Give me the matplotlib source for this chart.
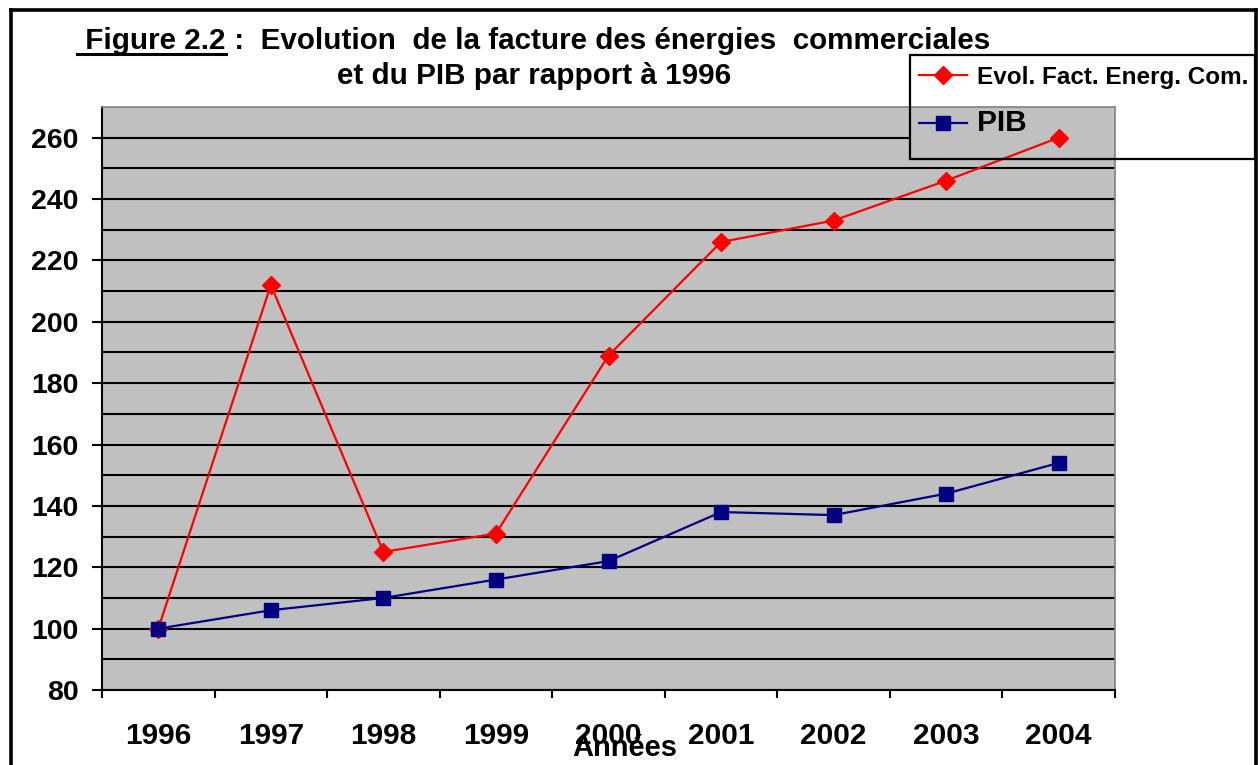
import matplotlib
matplotlib.use('Agg')
import matplotlib.pyplot as plt
import numpy as np
from matplotlib.lines import Line2D
from matplotlib.patches import Rectangle

annees = ['1996', '1997', '1998', '1999', '2000', '2001', '2002', '2003', '2004']
facture = [100, 212, 125, 131, 189, 226, 233, 246, 260]
pib = [100, 106, 110, 116, 122, 138, 137, 144, 154]

W, H = 1258, 765

plt.rcParams['font.family'] = ['Liberation Sans', 'DejaVu Sans']
plt.rcParams['font.weight'] = 'bold'

fig = plt.figure(figsize=(W / 100, H / 100), dpi=100)
ax = fig.add_axes([102 / W, 75 / H, 1013 / W, 583 / H])
ax.set_facecolor('#c0c0c0')

x = np.arange(len(annees))
ax.plot(x, facture, color='#ff0000', lw=1.6, marker='D', ms=9,
        label='Evol. Fact. Energ. Com.', zorder=3)
ax.plot(x, pib, color='#000080', lw=1.6, marker='s', ms=10.5,
        label='PIB', zorder=3)

ax.set_xlim(-0.5, 8.5)
ax.set_ylim(80, 270)

# y axis: labels every 20, grid every 10
ax.set_yticks(np.arange(80, 261, 20))
ax.set_yticks(np.arange(90, 270, 20), minor=True)
ax.grid(axis='y', which='both', color='black', lw=1.5)
ax.set_axisbelow(True)
ax.tick_params(axis='y', which='major', length=7, width=1.5, pad=10,
               labelsize=20.5, direction='out')
ax.tick_params(axis='y', which='minor', length=0)

# x axis: ticks between categories, labels centred
ax.set_xticks(np.arange(-0.5, 9, 1))
ax.set_xticklabels([])
ax.set_xticks(x, minor=True)
ax.set_xticklabels(annees, minor=True)
ax.tick_params(axis='x', which='major', length=6, width=1.5, direction='out')
ax.tick_params(axis='x', which='minor', length=0, pad=23, labelsize=21.5)

for s in ['left', 'bottom']:
    ax.spines[s].set_color('black')
    ax.spines[s].set_linewidth(1.5)
for s in ['top', 'right']:
    ax.spines[s].set_color('#808080')
    ax.spines[s].set_linewidth(1.2)

# grey area under the legend hides the grid lines
ax.add_patch(Rectangle((808 / 1013, 531 / 583), 0.3, 0.2, transform=ax.transAxes,
                       facecolor='#c0c0c0', edgecolor='none', zorder=1.5))

leg = fig.legend(loc='upper left', bbox_to_anchor=(910 / W, 1 - 57 / H),
                 borderaxespad=0, frameon=False, fontsize=17.5,
                 handlelength=2.0, handletextpad=0.4, labelspacing=0.85,
                 borderpad=0.35)
leg.get_texts()[1].set_fontsize(21.5)
fig.add_artist(Rectangle((910 / W, 1 - 159 / H), 345 / W, 104 / H,
                         transform=fig.transFigure, facecolor='none',
                         edgecolor='black', lw=1.6))

# title with underlined "Figure 2.2"
t1 = fig.text(77 / W, 1 - 49 / H, ' Figure 2.2', fontsize=21.3, ha='left', va='baseline')
fig.canvas.draw()
bb = t1.get_window_extent()
fig.text(bb.x1 / W, 1 - 49 / H, ' :  Evolution  de la facture des énergies  commerciales',
         fontsize=21.3, ha='left', va='baseline')
fig.add_artist(Line2D([bb.x0 / W, bb.x1 / W], [1 - 54 / H, 1 - 54 / H],
                      transform=fig.transFigure, color='black', lw=2.2))
fig.text(534 / W, 1 - 84 / H, 'et du PIB par rapport à 1996', fontsize=21.3,
         ha='center', va='baseline')

fig.text(625 / W, 1 - 748 / H, 'Années', fontsize=21, ha='center', va='center')

# frame around the figure
for xs, ys in [([11, 11], [10, H]), ([11, 1256], [10, 10]), ([1256, 1256], [10, H])]:
    fig.add_artist(Line2D([v / W for v in xs], [1 - v / H for v in ys],
                          transform=fig.transFigure, color='black', lw=2.6))

fig.savefig('out.png', dpi=100)
